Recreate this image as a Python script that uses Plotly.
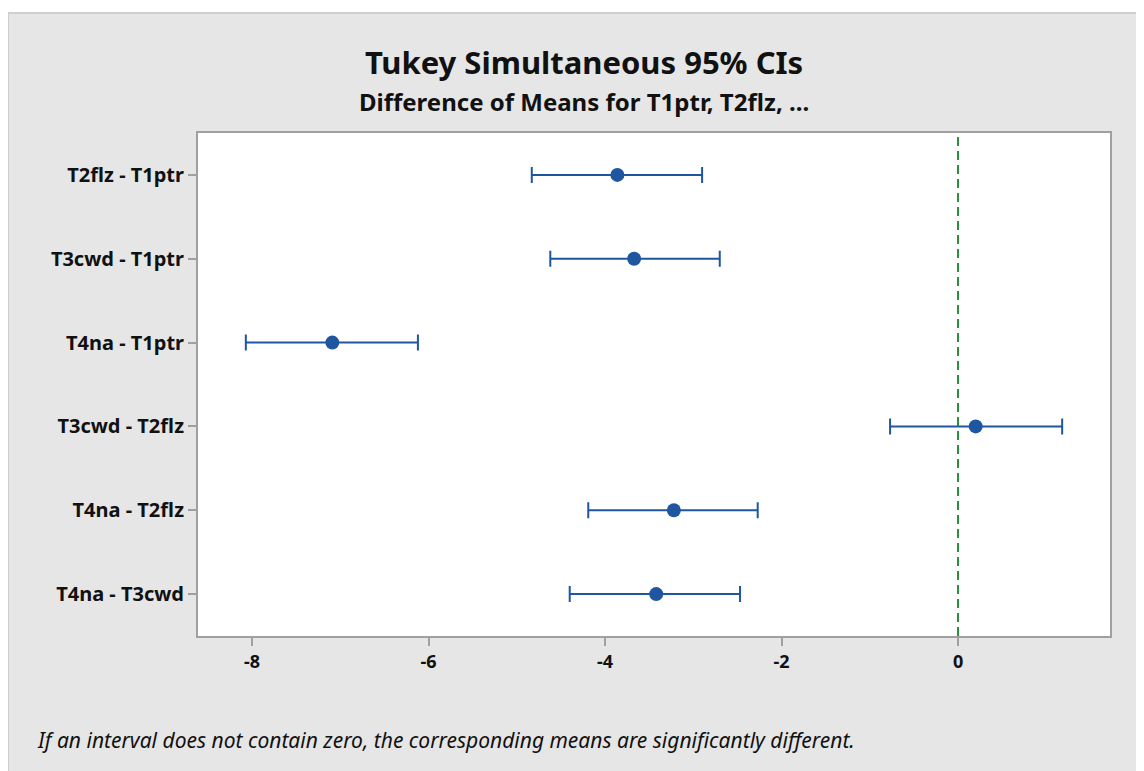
import plotly.graph_objects as go


comparisons = ['T2flz - T1ptr', 'T3cwd - T1ptr', 'T4na - T1ptr',
               'T3cwd - T2flz', 'T4na - T2flz', 'T4na - T3cwd']
diff_means = [-3.86, -3.67, -7.09, 0.20, -3.22, -3.42]
ci_lower = [-4.83, -4.62, -8.07, -0.77, -4.19, -4.40]
ci_upper = [-2.90, -2.70, -6.12, 1.18, -2.27, -2.47]
x_ticks = [-8, -6, -4, -2, 0]
x_tick_labels = ['-8', '-6', '-4', '-2', '0']

BLUE = '#1f56a0'
GREEN = '#2a8c3c'
BG = '#e6e6e6'
FONT = 'Noto Sans'

# page body adds 8px, so figure coords = picture coords - 8
W, H = 1144, 771
L, R, T, B = 190, 1102, 125, 628


def px(x):
    return (x - L) / (R - L)


def py(y):
    return (B - y) / (B - T)


def createTukeyFigure():
    '''
    Builds the Tukey simultaneous CI interval plot

    returns go.Figure
    '''
    err_plus = [u - m for u, m in zip(ci_upper, diff_means)]
    err_minus = [m - l for m, l in zip(diff_means, ci_lower)]

    fig = go.Figure()

    fig.add_trace(go.Scatter(
        x=diff_means, y=comparisons, mode='markers',
        marker=dict(color=BLUE, size=14),
        error_x=dict(type='data', symmetric=False, array=err_plus, arrayminus=err_minus,
                     color=BLUE, thickness=2, width=8),
        showlegend=False, hoverinfo='x+y'
    ))

    # reference line at zero
    fig.add_vline(x=0, line=dict(color=GREEN, width=2, dash='9px,5px'))

    # white strip on top of the gray panel, with panel border
    fig.add_shape(type='rect', xref='paper', yref='paper',
                  x0=px(-10), x1=px(W + 10), y0=py(-10), y1=py(5),
                  fillcolor='white', line=dict(width=0))
    fig.add_shape(type='line', xref='paper', yref='paper',
                  x0=px(0), x1=px(W + 10), y0=py(5), y1=py(5),
                  line=dict(color='#cfcfcf', width=2))
    fig.add_shape(type='line', xref='paper', yref='paper',
                  x0=px(0), x1=px(0), y0=py(5), y1=py(H + 10),
                  line=dict(color='#cfcfcf', width=2))

    fig.update_layout(
        width=W, height=H,
        paper_bgcolor=BG, plot_bgcolor='white',
        margin=dict(l=L, r=W - R, t=T, b=H - B),
        font=dict(family=FONT, color='#111111'),
        xaxis=dict(
            range=[-8.612, 1.722], tickvals=x_ticks, ticktext=x_tick_labels,
            showgrid=False, zeroline=False,
            ticks='outside', ticklen=8, tickwidth=2, tickcolor='#a0a0a0',
            tickfont=dict(size=18, family=FONT, weight='bold'),
            showline=True, linecolor='#a0a0a0', linewidth=2, mirror=True
        ),
        yaxis=dict(
            type='category', categoryorder='array', categoryarray=comparisons,
            range=[5.5, -0.5], showgrid=False, zeroline=False,
            ticks='outside', ticklen=8, tickwidth=2, tickcolor='#a0a0a0',
            tickfont=dict(size=20, family=FONT, weight='bold'),
            showline=True, linecolor='#a0a0a0', linewidth=2, mirror=True
        ),
        annotations=[
            dict(text='<b>Tukey Simultaneous 95% CIs</b>', xref='paper', yref='paper',
                 x=px(576), y=py(54), xanchor='center', yanchor='middle',
                 showarrow=False, font=dict(size=31, family=FONT, color='#111111')),
            dict(text='<b>Difference of Means for T1ptr, T2flz, ...</b>', xref='paper', yref='paper',
                 x=px(576), y=py(93), xanchor='center', yanchor='middle',
                 showarrow=False, font=dict(size=24, family=FONT, color='#111111')),
            dict(text='<i>If an interval does not contain zero, the corresponding means are significantly different.</i>',
                 xref='paper', yref='paper', x=px(27), y=py(732),
                 xanchor='left', yanchor='middle', showarrow=False,
                 font=dict(size=21, family=FONT, color='#111111')),
        ]
    )

    return fig


fig = createTukeyFigure()
fig.write_html('out.html')
